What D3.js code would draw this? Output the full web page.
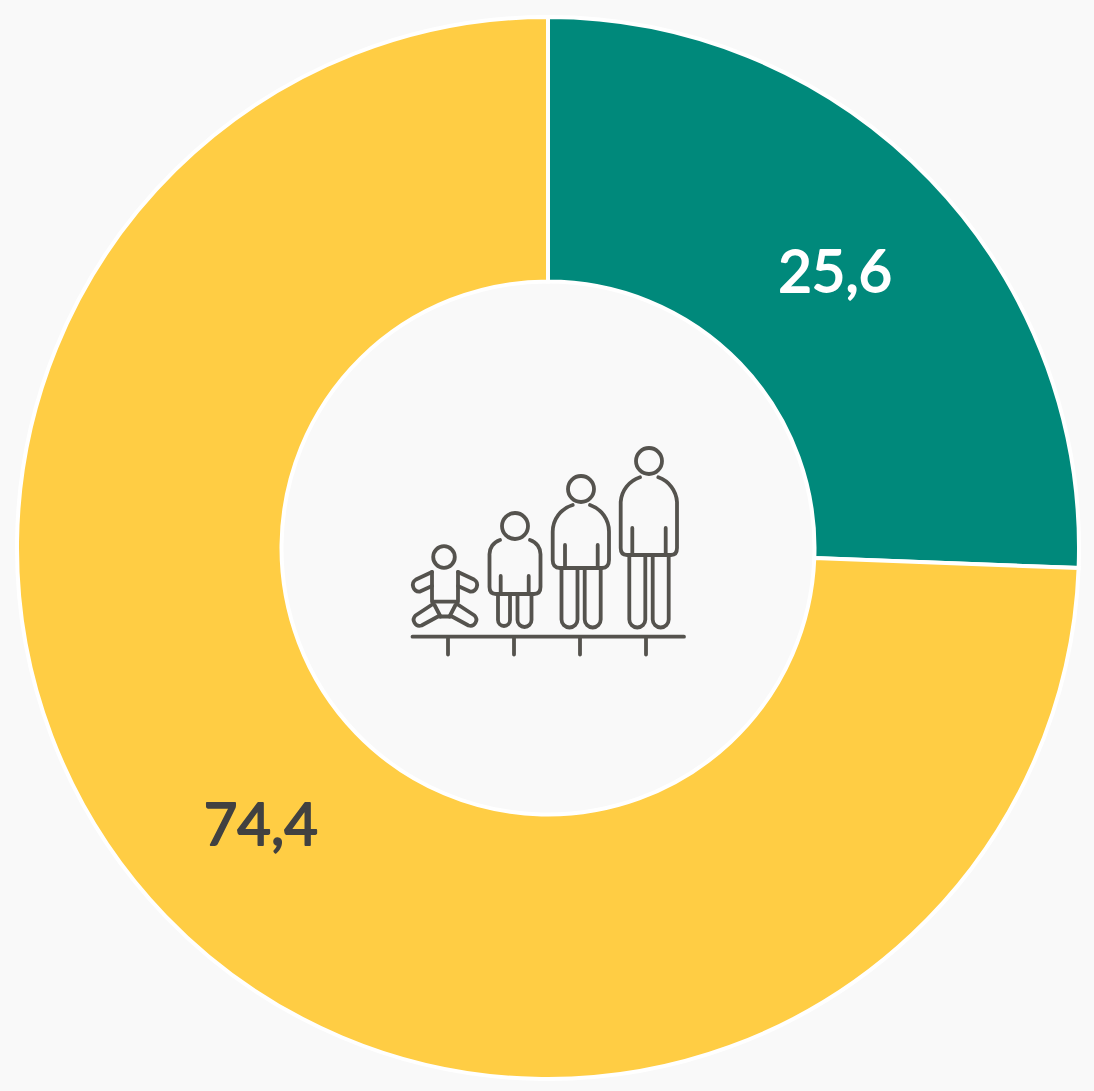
<!DOCTYPE html>
<html><head><meta charset="utf-8">
<style>html,body{margin:0;padding:0;background:#f9f9f9;overflow:hidden}svg{display:block}</style>
<script src="https://cdn.jsdelivr.net/npm/d3@7/dist/d3.min.js"></script>
</head><body><div id="chart"></div>
<script>
const categories = ["A", "B"];
const values = [25.6, 74.4];
const labels = ["25,6", "74,4"];
const sliceColors = ["#00897b", "#ffcd44"];
const labelColors = ["#ffffff", "#414141"];

const W = 1094, H = 1091, cx = 548, cy = 548, R = 531, r = 266.5;
const svg = d3.select("#chart").append("svg").attr("width", W).attr("height", H);
svg.append("rect").attr("width", W).attr("height", H).attr("fill", "#f9f9f9");
const g = svg.append("g").attr("transform", `translate(${cx},${cy})`);
const pie = d3.pie().sort(null).value((d, i) => values[i]);
const arc = d3.arc().innerRadius(r).outerRadius(R);
const arcs = pie(categories);

g.selectAll("path.slice").data(arcs).join("path").attr("class", "slice")
  .attr("d", arc).attr("fill", (d, i) => sliceColors[i])
  .attr("stroke", "#ffffff").attr("stroke-width", 4).attr("stroke-linejoin", "miter");

g.selectAll("text.lbl").data(arcs).join("text").attr("class", "lbl")
  .attr("transform", d => `translate(${arc.centroid(d)})`)
  .attr("text-anchor", "middle").attr("dy", "0.36em")
  .attr("font-family", "Lato, sans-serif").attr("font-size", 58).attr("font-weight", 400)
  .attr("stroke", (d, i) => labelColors[i]).attr("stroke-width", 1.8).attr("stroke-linejoin", "round")
  .attr("fill", (d, i) => labelColors[i]).text((d, i) => labels[i]);

// Centre pictogram: four figures standing on a ruler
const iconPaths = [
  // ruler and ticks
  "M412.5,636.7H684M448,637V654.5M514,637V654.5M580,637V654.5M646,637V654.5",
  // baby torso, arms, legs, nappy
  "M432,572V601.7H458V572",
  "M432,572L416,579.5A6.5,6.5 0 0 0 420,591.5L432,586",
  "M458,572L474,579.5A6.5,6.5 0 0 1 470,591.5L458,586",
  "M433,604L415.5,615.5A6,6 0 0 0 421.5,625.5L438,616.5H452L468.5,625.5A6,6 0 0 0 474.5,615.5L457,604",
  "M434.5,605L440.5,616.5M455.5,605L449.5,616.5",
  // second figure
  "M500,540A15,15 0 0 0 489.5,555V587Q489.5,594 496,594H534Q540.5,594 540.5,587V555A15,15 0 0 0 530,540",
  "M500.7,576V594M528.7,576V594",
  "M498,594V620A6,6 0 0 0 510,620V594M517.5,594V620A7,7 0 0 0 531.5,620V594",
  // third figure
  "M572.7,505A28,28 0 0 0 552.7,532V560Q552.7,568 560,568H602Q609,568 609,560V532A28,28 0 0 0 590,505",
  "M565,545V568M597.7,545V568",
  "M561.5,568V619.5A8,8 0 0 0 577.5,619.5V568M584.7,568V619.5A8,8 0 0 0 600.7,619.5V568",
  // fourth figure
  "M640,477.3A28,28 0 0 0 620.7,502V548Q620.7,555 627,555H671Q677,555 677,548V502A28,28 0 0 0 658.3,477.3",
  "M632.3,528V555M665.7,528V555",
  "M629.3,555V619.5A8,8 0 0 0 645.3,619.5V555M652.7,555V619.5A8,8 0 0 0 668.7,619.5V555"
];
const iconHeads = [[444, 557, 10.8], [515, 526, 13], [581, 489, 13], [649, 461, 13]];
const icon = svg.append("g").attr("fill", "none").attr("stroke", "#55534e")
  .attr("stroke-width", 3.8).attr("stroke-linecap", "round").attr("stroke-linejoin", "round");
icon.selectAll("path").data(iconPaths).join("path").attr("d", d => d);
icon.selectAll("circle").data(iconHeads).join("circle")
  .attr("cx", d => d[0]).attr("cy", d => d[1]).attr("r", d => d[2]);
</script></body></html>
